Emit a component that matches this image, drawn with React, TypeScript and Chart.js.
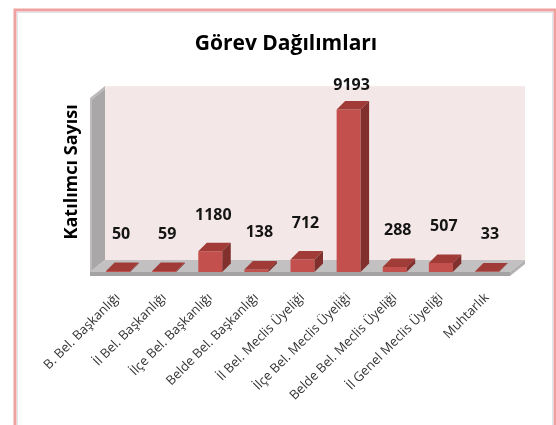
import React, { useEffect, useRef } from 'react';
import { Chart, registerables } from 'chart.js';

Chart.register(...registerables);

const categories = [
  'B. Bel. Başkanlığı',
  'İl Bel. Başkanlığı',
  'İlçe Bel. Başkanlığı',
  'Belde Bel. Başkanlığı',
  'İl Bel. Meclis Üyeliği',
  'İlçe Bel. Meclis Üyeliği',
  'Belde Bel. Meclis Üyeliği',
  'İl Genel Meclis Üyeliği',
  'Muhtarlık',
];
const values = [50, 59, 1180, 138, 712, 9193, 288, 507, 33];
const yMin = 0;
const yMax = 10000;
const chartTitle = 'Görev Dağılımları';
const yTitle = 'Katılımcı Sayısı';

const FONT = "'Open Sans', 'DejaVu Sans', sans-serif";
const W = 556;
const H = 425;

const FRONT = '#C4504D';
const TOP = '#A13B38';
const SIDE = '#82302D';
const WALL = '#F4E7E7';
const SIDEWALL = '#A9A7A7';
const FLOOR_TOP = '#C2C0C0';
const FLOOR_FRONT = '#A4A2A2';

const BAR_DX = 8.5;
const BAR_DY = -8.5;
const FL_DX = 15;
const FL_DY = -12;

const threeD = {
  id: 'threeD',
  beforeDraw(chart: any) {
    const { ctx, width, height } = chart;
    ctx.save();
    ctx.fillStyle = '#ffffff';
    ctx.fillRect(0, 0, width, height);
    ctx.strokeStyle = '#EFA0A0';
    ctx.lineWidth = 3;
    ctx.strokeRect(15, 10, 540, height + 20);
    ctx.strokeStyle = '#DCE6EE';
    ctx.lineWidth = 1;
    ctx.strokeRect(17.5, 12.5, 535, height + 20);
    ctx.restore();
  },
  beforeDatasetsDraw(chart: any) {
    const { ctx, chartArea: ca } = chart;
    const fl = ca.left - 5;
    const fr = ca.right;
    const fb = ca.bottom;
    ctx.save();
    // back wall
    ctx.fillStyle = WALL;
    ctx.fillRect(fl + FL_DX, ca.top + 3 + FL_DY, fr + FL_DX - (fl + FL_DX), fb + FL_DY - (ca.top + 3 + FL_DY));
    // side wall
    ctx.fillStyle = SIDEWALL;
    ctx.beginPath();
    ctx.moveTo(fl, ca.top + 3);
    ctx.lineTo(fl + FL_DX, ca.top + 3 + FL_DY);
    ctx.lineTo(fl + FL_DX, fb + FL_DY);
    ctx.lineTo(fl, fb);
    ctx.closePath();
    ctx.fill();
    ctx.fillStyle = '#BDBBBB';
    ctx.beginPath();
    ctx.moveTo(fl, ca.top + 3);
    ctx.lineTo(fl + FL_DX, ca.top + 3 + FL_DY);
    ctx.lineTo(fl + FL_DX, ca.top + 3 + FL_DY + 3);
    ctx.lineTo(fl + 2, ca.top + 5);
    ctx.lineTo(fl + 2, fb);
    ctx.lineTo(fl, fb);
    ctx.closePath();
    ctx.fill();
    // floor top
    ctx.fillStyle = FLOOR_TOP;
    ctx.beginPath();
    ctx.moveTo(fl, fb);
    ctx.lineTo(fl + FL_DX, fb + FL_DY);
    ctx.lineTo(fr + FL_DX, fb + FL_DY);
    ctx.lineTo(fr, fb);
    ctx.closePath();
    ctx.fill();
    // floor front
    ctx.fillStyle = FLOOR_FRONT;
    ctx.fillRect(fl, fb, fr - fl, 4);
    // floor right side
    ctx.fillStyle = '#B2B0B0';
    ctx.beginPath();
    ctx.moveTo(fr, fb);
    ctx.lineTo(fr + FL_DX, fb + FL_DY);
    ctx.lineTo(fr + FL_DX, fb + FL_DY + 4);
    ctx.lineTo(fr, fb + 4);
    ctx.closePath();
    ctx.fill();
    ctx.restore();
  },
  afterDatasetsDraw(chart: any) {
    const { ctx } = chart;
    const meta = chart.getDatasetMeta(0);
    ctx.save();
    meta.data.forEach((bar: any, i: number) => {
      const { x, y, base, width } = bar.getProps(['x', 'y', 'base', 'width'], true);
      const l = x - width / 2;
      const r = x + width / 2;
      ctx.fillStyle = TOP;
      ctx.beginPath();
      ctx.moveTo(l, y);
      ctx.lineTo(l + BAR_DX, y + BAR_DY);
      ctx.lineTo(r + BAR_DX, y + BAR_DY);
      ctx.lineTo(r, y);
      ctx.closePath();
      ctx.fill();
      ctx.fillStyle = SIDE;
      ctx.beginPath();
      ctx.moveTo(r, y);
      ctx.lineTo(r + BAR_DX, y + BAR_DY);
      ctx.lineTo(r + BAR_DX, base + BAR_DY);
      ctx.lineTo(r, base);
      ctx.closePath();
      ctx.fill();
      // data label
      const v = values[i];
      ctx.fillStyle = '#141414';
      ctx.font = `bold 16px ${FONT}`;
      ctx.textAlign = 'center';
      ctx.textBaseline = 'middle';
      ctx.fillText(String(v), x + 3, y - (37 - (14 * v) / yMax));
    });
    ctx.restore();
  },
};

export default function App() {
  const ref = useRef<HTMLCanvasElement | null>(null);
  useEffect(() => {
    document.body.style.margin = '0';
    const canvas = ref.current;
    if (!canvas) return;
    const chart = new Chart(canvas, {
      type: 'bar',
      data: {
        labels: categories,
        datasets: [
          {
            data: values,
            backgroundColor: FRONT,
            borderWidth: 0,
            barPercentage: 0.52,
            categoryPercentage: 1,
            yAxisID: 'y',
          },
        ],
      },
      options: {
        responsive: false,
        animation: false,
        devicePixelRatio: 1,
        layout: { padding: { left: 16, right: 0, top: 0, bottom: 0 } },
        plugins: {
          legend: { display: false },
          tooltip: { enabled: false },
          title: {
            display: true,
            text: chartTitle,
            color: '#000000',
            font: { family: FONT, size: 21, weight: 'bold', lineHeight: 1.2 },
            padding: { top: 31, bottom: 39 },
          },
        },
        scales: {
          x: {
            grid: { display: false, drawTicks: false },
            border: { display: false },
            ticks: {
              color: '#333333',
              font: { family: FONT, size: 13 },
              minRotation: 45,
              maxRotation: 45,
              padding: 18,
              autoSkip: false,
            },
            afterFit: (scale: any) => {
              scale.height = 153;
            },
          },
          y: {
            min: yMin,
            max: yMax,
            grid: { display: false, drawTicks: false },
            border: { display: false },
            ticks: { display: false },
            title: {
              display: true,
              text: '     ' + yTitle,
              color: '#000000',
              font: { family: FONT, size: 18, weight: 'bold', lineHeight: 1.2 },
              padding: { top: 45, bottom: 0 },
            },
            afterFit: (scale: any) => {
              scale.width = 79;
            },
          },
          yRight: {
            position: 'right',
            display: true,
            grid: { display: false, drawTicks: false },
            border: { display: false },
            ticks: { display: false },
            afterFit: (scale: any) => {
              scale.width = 46;
            },
          },
        },
      },
      plugins: [threeD],
    });
    return () => chart.destroy();
  }, []);
  return (
    <canvas
      ref={ref}
      width={W}
      height={H}
      style={{ display: 'block', width: W, height: H }}
    />
  );
}
